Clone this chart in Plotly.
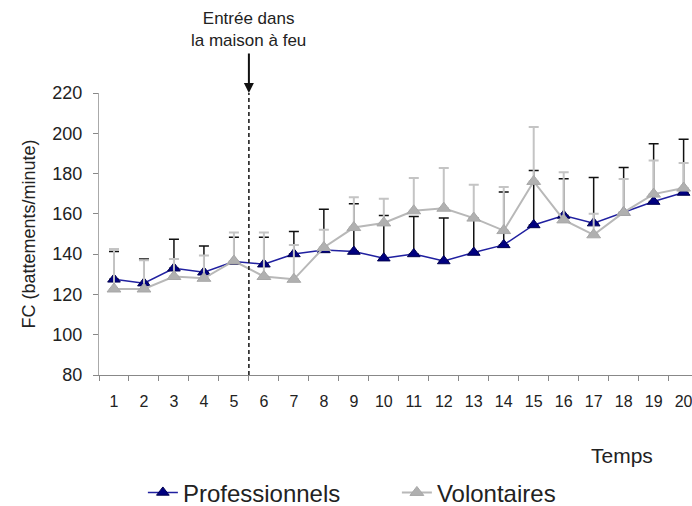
import plotly.graph_objects as go

temps = [str(i) for i in range(1, 21)]
pro_fc = [127.5, 125.6, 133.0, 131.0, 136.3, 135.0, 140.1, 142.1, 141.3, 138.0,
          140.1, 136.6, 140.8, 144.6, 154.5, 159.2, 155.4, 160.7, 166.1, 170.6]
pro_top = [141.3, 137.6, 147.4, 144.1, 148.4, 148.4, 151.2, 162.3, 165.0, 159.2,
           158.7, 157.9, 157.9, 170.8, 181.5, 177.4, 178.1, 183.0, 194.8, 197.1]
vol_fc = [122.7, 122.7, 128.9, 128.0, 136.6, 128.9, 127.5, 143.3, 153.2, 155.5,
          161.5, 162.8, 157.9, 151.7, 176.1, 157.0, 149.6, 160.7, 169.8, 172.8]
vol_top = [142.5, 137.0, 137.6, 139.3, 150.7, 150.7, 144.6, 152.1, 168.3, 167.5,
           177.8, 182.8, 174.4, 173.3, 203.1, 180.6, 160.0, 177.3, 186.5, 185.2]
y_ticks = [80, 100, 120, 140, 160, 180, 200, 220]

pro_err = [t - v for t, v in zip(pro_top, pro_fc)]
vol_err = [t - v for t, v in zip(vol_top, vol_fc)]

FONT = "Liberation Sans, Arial, sans-serif"
fig = go.Figure()
fig.add_trace(go.Scatter(
    x=temps, y=pro_fc, name="Professionnels", mode="lines+markers",
    line=dict(color="#2020a0", width=1.5),
    marker=dict(symbol="triangle-up", size=11, color="#000080",
                line=dict(color="#000050", width=1)),
    error_y=dict(type="data", symmetric=False, array=pro_err,
                 arrayminus=[0] * 20, color="#111111", thickness=1.5, width=5),
))
fig.add_trace(go.Scatter(
    x=temps, y=vol_fc, name="Volontaires", mode="lines+markers",
    line=dict(color="#b8b8b8", width=2),
    marker=dict(symbol="triangle-up", size=12, color="#b0b0b0",
                line=dict(color="#a8a8a8", width=1)),
    error_y=dict(type="data", symmetric=False, array=vol_err,
                 arrayminus=[0] * 20, color="#c4c4c4", thickness=2, width=5),
))

fig.add_shape(type="line", xref="x", yref="y", x0=4.5, x1=4.5, y0=80, y1=220,
              line=dict(color="#111111", width=1.5, dash="4px,3px"))
fig.add_annotation(xref="x", yref="y", x=4.5, y=220, ax=0, ay=-41, text="",
                   showarrow=True, arrowhead=2, arrowsize=1, arrowwidth=2,
                   arrowcolor="#111111")
fig.add_annotation(xref="x", yref="paper", x=4.5, y=1.225, yanchor="middle",
                   text="Entrée dans<br>la maison à feu", showarrow=False,
                   font=dict(family=FONT, size=17, color="#222222"))
fig.add_annotation(xref="paper", yref="paper", x=0.882, y=-0.285,
                   xanchor="center", yanchor="middle", text="Temps",
                   showarrow=False, font=dict(family=FONT, size=21, color="#222222"))

fig.update_layout(
    width=692, height=506,
    margin=dict(l=99, r=0, t=93, b=131, autoexpand=False),
    paper_bgcolor="white", plot_bgcolor="white",
    font=dict(family=FONT, color="#222222"),
    showlegend=True,
    legend=dict(orientation="h", x=0.074, xanchor="left",
                yref="container", y=0.026, yanchor="middle",
                font=dict(family=FONT, size=24),
                entrywidth=209, entrywidthmode="pixels",
                bgcolor="rgba(0,0,0,0)"),
    xaxis=dict(type="category", range=[-0.5, 19.28], tickson="boundaries",
               ticks="outside", ticklen=5, tickcolor="#888888",
               showline=True, linecolor="#888888", linewidth=1,
               showgrid=False, zeroline=False,
               tickfont=dict(family=FONT, size=16, color="#222222"),
               ticklabelstandoff=12),
    yaxis=dict(range=[80, 220], tickvals=y_ticks, ticks="outside", ticklen=5,
               tickcolor="#888888", showline=True, linecolor="#aaaaaa",
               linewidth=1, showgrid=False, zeroline=False,
               tickfont=dict(family=FONT, size=18, color="#222222"),
               ticklabelstandoff=7,
               title=dict(text="FC (battements/minute)", standoff=12,
                          font=dict(family=FONT, size=18, color="#222222"))),
)

fig.write_html("out.html")
